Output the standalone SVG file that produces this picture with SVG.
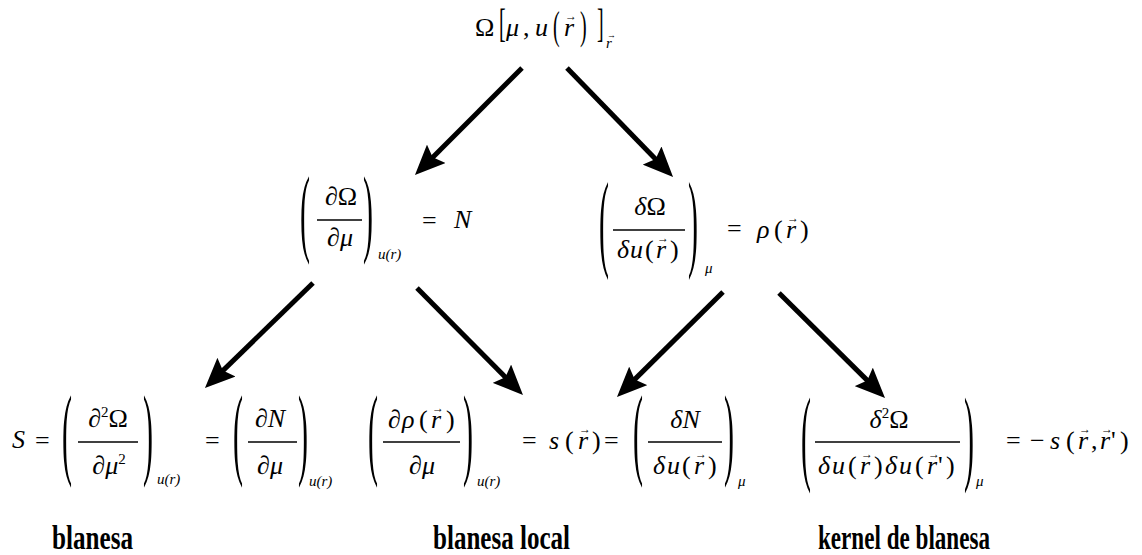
<svg xmlns="http://www.w3.org/2000/svg" width="1142" height="555" viewBox="0 0 1142 555">
<style>
.m{font-family:"Liberation Serif","Times New Roman",serif;font-size:26px;fill:#000}
.i{font-style:italic}
.s{font-family:"Liberation Serif","Times New Roman",serif;font-size:15px;font-style:italic;fill:#000}
.v{font-family:"Liberation Serif","DejaVu Serif",serif;font-size:12px;font-style:normal}
.bp{font-family:"Liberation Serif","Times New Roman",serif;font-size:100px;fill:#000}
.bq{font-family:"Liberation Serif","Times New Roman",serif;font-size:40px;fill:#000}
.bar{stroke:#000;stroke-width:1.5}
.lbl{font-family:"Liberation Serif","Times New Roman",serif;font-weight:bold;font-size:34px;fill:#000}
.c{stroke:#000;stroke-width:5;fill:none;marker-end:url(#ah)}
</style>
<defs>
<marker id="ah" viewBox="0 0 30 26" refX="10" refY="13" markerWidth="30" markerHeight="26" markerUnits="userSpaceOnUse" orient="auto">
<path d="M0,0 L30,13 L0,26 L5,13 z" fill="#000"/>
</marker>
</defs>
<rect width="1142" height="555" fill="#fff"/>

<g id="connectors">
<line class="c" x1="522" y1="68" x2="429.1" y2="160.9"/>
<line class="c" x1="567" y1="68" x2="659.1" y2="162.7"/>
<line class="c" x1="313" y1="283" x2="219.3" y2="374.1"/>
<line class="c" x1="417" y1="288" x2="508.9" y2="380.8"/>
<line class="c" x1="723" y1="292" x2="631.2" y2="382.9"/>
<line class="c" x1="779" y1="293" x2="870.8" y2="383.9"/>
</g>

<g id="n-omega">
<text class="m" x="475" y="36">Ω</text>
<text class="bq" transform="translate(499,36.5) scale(0.5,1)">[</text>
<text class="m" y="36"><tspan class="i" x="506">μ</tspan><tspan x="523">,</tspan><tspan class="i" x="535">u</tspan></text>
<text class="bq" transform="translate(553,39) scale(0.5,1)">(</text>
<text class="m" y="36"><tspan class="i" x="564">r</tspan><tspan class="v" x="565" dy="-16">→</tspan></text>
<text class="bq" transform="translate(580,39) scale(0.5,1)">)</text>
<text class="bq" transform="translate(597,36.5) scale(0.5,1)">]</text>
<text class="s" y="48"><tspan x="606">r</tspan><tspan class="v" x="607" dy="-10" style="font-size:9px">→</tspan></text>
</g>

<g id="n-N">
<text class="bp" transform="translate(300,244) scale(0.3,0.973)">(</text>
<text class="m" x="341" y="205" text-anchor="middle">∂Ω</text>
<line class="bar" x1="317" y1="220" x2="362" y2="220"/>
<text class="m" x="340" y="246" text-anchor="middle">∂<tspan class="i">μ</tspan></text>
<text class="bp" transform="translate(363,244) scale(0.3,0.973)">)</text>
<text class="s" x="378" y="259">u(r)</text>
<text class="m" x="422" y="229">=</text>
<text class="m i" x="454" y="228">N</text>
</g>

<g id="n-rho">
<text class="bp" transform="translate(599,257) scale(0.3,1.09)">(</text>
<text class="m" x="650" y="215" text-anchor="middle"><tspan class="i">δ</tspan>Ω</text>
<line class="bar" x1="613" y1="230" x2="685" y2="230"/>
<text class="m" y="258"><tspan class="i" x="617">δ</tspan><tspan class="i" x="630">u</tspan><tspan x="645">(</tspan><tspan class="i" x="656">r</tspan><tspan class="v" x="657" dy="-16">→</tspan><tspan x="670" dy="16">)</tspan></text>
<text class="bp" transform="translate(688,257) scale(0.3,1.09)">)</text>
<text class="s" x="705" y="273">μ</text>
<text class="m" x="727" y="237">=</text>
<text class="m" y="238"><tspan class="i" x="757">ρ</tspan><tspan x="774">(</tspan><tspan class="i" x="786">r</tspan><tspan class="v" x="787" dy="-16">→</tspan><tspan x="800" dy="16">)</tspan></text>
</g>

<g id="n-S">
<text class="m i" x="12" y="448">S</text>
<text class="m" x="35" y="449">=</text>
<text class="bp" transform="translate(62,466) scale(0.3,1.02)">(</text>
<text class="m" x="108" y="427" text-anchor="middle">∂<tspan style="font-size:15px" dy="-10">2</tspan><tspan dy="10">Ω</tspan></text>
<line class="bar" x1="78" y1="442" x2="138" y2="442"/>
<text class="m" x="109" y="474" text-anchor="middle">∂<tspan class="i">μ</tspan><tspan style="font-size:15px" dy="-10">2</tspan></text>
<text class="bp" transform="translate(143,466) scale(0.3,1.02)">)</text>
<text class="s" x="157" y="484">u(r)</text>
<text class="m" x="205" y="449">=</text>
<text class="bp" transform="translate(233,466) scale(0.3,1.02)">(</text>
<text class="m" x="270" y="427" text-anchor="middle">∂<tspan class="i">N</tspan></text>
<line class="bar" x1="248" y1="442" x2="297" y2="442"/>
<text class="m" x="270" y="474" text-anchor="middle">∂<tspan class="i">μ</tspan></text>
<text class="bp" transform="translate(298,466) scale(0.3,1.02)">)</text>
<text class="s" x="309" y="486">u(r)</text>
</g>

<g id="n-local">
<text class="bp" transform="translate(368,466) scale(0.3,1.02)">(</text>
<text class="m" y="428"><tspan x="388">∂</tspan><tspan class="i" x="402">ρ</tspan><tspan x="419">(</tspan><tspan class="i" x="431">r</tspan><tspan class="v" x="432" dy="-16">→</tspan><tspan x="446" dy="16">)</tspan></text>
<line class="bar" x1="383" y1="442" x2="460" y2="442"/>
<text class="m" x="422" y="474" text-anchor="middle">∂<tspan class="i">μ</tspan></text>
<text class="bp" transform="translate(463,466) scale(0.3,1.02)">)</text>
<text class="s" x="477" y="486">u(r)</text>
<text class="m" y="449"><tspan x="522">=</tspan><tspan class="i" x="549">s</tspan><tspan x="565">(</tspan><tspan class="i" x="578">r</tspan><tspan class="v" x="579" dy="-16">→</tspan><tspan x="592" dy="16">)</tspan><tspan x="604">=</tspan></text>
<text class="bp" transform="translate(633,466) scale(0.3,1.02)">(</text>
<text class="m" x="685" y="428" text-anchor="middle"><tspan class="i">δ</tspan><tspan class="i">N</tspan></text>
<line class="bar" x1="648" y1="442" x2="722" y2="442"/>
<text class="m" y="474"><tspan class="i" x="653">δ</tspan><tspan class="i" x="667">u</tspan><tspan x="682">(</tspan><tspan class="i" x="694">r</tspan><tspan class="v" x="695" dy="-16">→</tspan><tspan x="708" dy="16">)</tspan></text>
<text class="bp" transform="translate(724,466) scale(0.3,1.02)">)</text>
<text class="s" x="738" y="486">μ</text>
</g>

<g id="n-kernel">
<text class="bp" transform="translate(801,471) scale(0.3,1.055)">(</text>
<text class="m" x="889" y="428" text-anchor="middle"><tspan class="i">δ</tspan><tspan style="font-size:15px" dy="-10">2</tspan><tspan dy="10">Ω</tspan></text>
<line class="bar" x1="815" y1="442" x2="960" y2="442"/>
<text class="m" y="474"><tspan class="i" x="818">δ</tspan><tspan class="i" x="832">u</tspan><tspan x="848">(</tspan><tspan class="i" x="860">r</tspan><tspan class="v" x="861" dy="-16">→</tspan><tspan x="874" dy="16">)</tspan><tspan class="i" x="885">δ</tspan><tspan class="i" x="899">u</tspan><tspan x="915">(</tspan><tspan class="i" x="927">r</tspan><tspan class="v" x="928" dy="-16">→</tspan><tspan x="938" dy="16">'</tspan><tspan x="946">)</tspan></text>
<text class="bp" transform="translate(964,471) scale(0.3,1.055)">)</text>
<text class="s" x="976" y="486">μ</text>
<text class="m" y="449"><tspan x="1006">=</tspan><tspan x="1030">−</tspan><tspan class="i" x="1050">s</tspan><tspan x="1066">(</tspan><tspan class="i" x="1078">r</tspan><tspan class="v" x="1079" dy="-16">→</tspan><tspan x="1091" dy="16">,</tspan><tspan class="i" x="1100">r</tspan><tspan class="v" x="1101" dy="-16">→</tspan><tspan x="1111" dy="16">'</tspan><tspan x="1120">)</tspan></text>
</g>

<g id="labels">
<text class="lbl" x="52" y="549" textLength="81" lengthAdjust="spacingAndGlyphs">blanesa</text>
<text class="lbl" x="433" y="549" textLength="137" lengthAdjust="spacingAndGlyphs">blanesa local</text>
<text class="lbl" x="818" y="549" textLength="172" lengthAdjust="spacingAndGlyphs">kernel de blanesa</text>
</g>
</svg>
